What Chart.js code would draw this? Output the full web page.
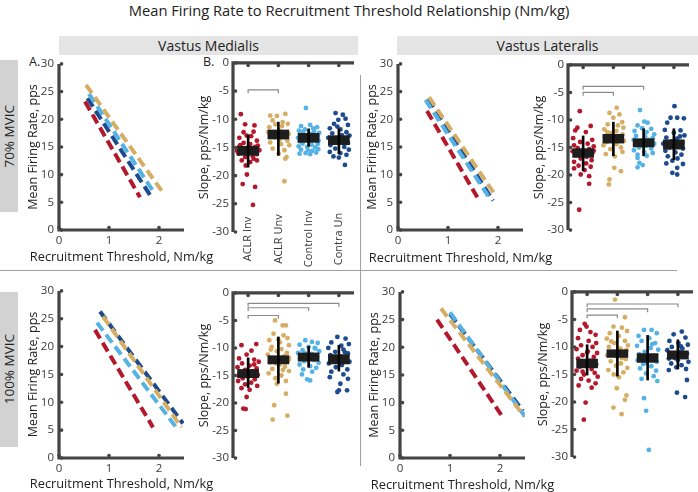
<!DOCTYPE html>
<html><head><meta charset="utf-8">
<script src="https://cdn.jsdelivr.net/npm/chart.js@4.4.0/dist/chart.umd.min.js"></script>
<style>
body{margin:0;width:698px;height:492px;position:relative;background:#fff;font-family:'Open Sans',sans-serif;overflow:hidden;color:#222}
canvas{position:absolute}
.abs{position:absolute;white-space:nowrap}
.hdr{position:absolute;background:#e4e4e4;height:19px;line-height:19px;text-align:center;font-size:14px;color:#222}
.rowlab{position:absolute;left:0;width:18px;background:#d2d2d2;display:flex;align-items:center;justify-content:center}
.rowlab span{writing-mode:vertical-rl;transform:rotate(180deg);font-size:13.5px;white-space:nowrap;color:#222}
.hline{position:absolute;height:1px;background:#a0a0a0}
.vline{position:absolute;width:1px;background:#a0a0a0}
.lab{position:absolute;font-size:12.5px;line-height:16px;color:#222}
.xt{position:absolute;font-size:12.8px;line-height:18px;color:#222;text-align:center;white-space:nowrap;width:200px}
</style></head><body>
<div class="abs" style="left:0;top:1px;width:698px;text-align:center;font-size:14.7px;line-height:18px;color:#222">Mean Firing Rate to Recruitment Threshold Relationship (Nm/kg)</div>
<div class="hdr" style="left:59px;top:36px;width:299px">Vastus Medialis</div>
<div class="hdr" style="left:397px;top:36px;width:301px">Vastus Lateralis</div>
<div class="rowlab" style="top:60px;height:152px"><span>70% MVIC</span></div>
<div class="rowlab" style="top:292px;height:155px"><span>100% MVIC</span></div>
<div class="hline" style="left:0;top:270px;width:677px"></div>
<div class="vline" style="left:360px;top:75px;height:391px"></div>
<div class="lab" style="left:29px;top:54px">A.</div>
<div class="lab" style="left:203px;top:54px">B.</div>
<script>
// ---------- data ----------
const categories = ['ACLR Inv', 'ACLR Unv', 'Control Inv', 'Contra Un'];
const lineXTicks = [0, 1, 2];
const lineYTicks = [0, 5, 10, 15, 20, 25, 30];
const slopeYTicks = [0, -5, -10, -15, -20, -25, -30];
const catTicks = [1, 2, 3, 4];
const lineXRange = [0, 2.5], lineYRange = [0, 30];
const slopeXRange = [0.5, 4.5], slopeYRange = [-30, 0];
const lineXTitle = 'Recruitment Threshold, Nm/kg';
const lineYTitle = 'Mean Firing Rate, pps';
const slopeYTitle = 'Slope, pps/Nm/kg';

// regression line endpoints [x, y] per group (ACLR Inv, ACLR Unv, Control Inv, Contra Un)
const vm70LineStart = [[0.52, 23.2], [0.54, 26.2], [0.60, 24.6], [0.57, 23.8]];
const vm70LineEnd   = [[1.62, 5.9], [2.06, 7.0], [1.92, 6.5], [1.85, 5.9]];
const vl70LineStart = [[0.58, 21.5], [0.62, 24.0], [0.55, 23.5], [0.60, 23.7]];
const vl70LineEnd   = [[1.60, 5.7], [1.93, 6.5], [1.85, 5.5], [1.90, 5.3]];
const vm100LineStart = [[0.72, 23.0], [0.88, 25.4], [0.76, 24.3], [0.82, 26.3]];
const vm100LineEnd   = [[1.88, 5.5], [2.45, 5.5], [2.36, 5.3], [2.48, 6.2]];
const vl100LineStart = [[0.74, 25.0], [0.82, 27.0], [1.00, 26.3], [1.00, 26.0]];
const vl100LineEnd   = [[2.06, 7.3], [2.48, 7.6], [2.50, 7.5], [2.46, 8.5]];

// individual slopes: [jitter offset from category, slope]
const vm70AclrInv = [[-0.24,-9.1],[-0.1,-10.9],[0.21,-11.1],[-0.15,-12.3],[0.18,-12.2],[-0.29,-13.3],[0.29,-13.8],[-0.26,-14.6],[0.07,-14.4],[0.23,-14.9],[-0.21,-15.4],[0.12,-15.8],[0.29,-16.2],[-0.32,-16.1],[-0.1,-16.7],[0.18,-17.0],[-0.21,-17.3],[0.07,-17.6],[0.29,-17.3],[-0.04,-15.1],[-0.15,-14.2],[0.01,-15.5],[-0.37,-15.6],[0.37,-15.5],[-0.04,-19.8],[-0.18,-21.5],[0.23,-22.0],[0.16,-25.2],[0.1,-13.0],[-0.08,-18.2],[0.32,-14.7],[-0.3,-14.9],[0.15,-16.5],[-0.05,-12.9]];
const vm70AclrUnv = [[-0.27,-9.35],[-0.05,-9.4],[0.23,-9.06],[-0.19,-10.2],[0.14,-10.5],[0.31,-10.8],[-0.3,-11.4],[0.03,-12.0],[0.34,-12.6],[-0.13,-13.2],[0.23,-13.3],[-0.27,-14.1],[0.09,-14.4],[0.36,-14.6],[-0.19,-15.2],[0.2,-15.5],[0.01,-16.1],[0.27,-16.7],[0.23,-17.0],[0.2,-21.0],[-0.33,-12.3],[0.12,-11.2],[-0.1,-10.9],[0.3,-13.8],[-0.22,-12.8],[0.05,-13.6]];
const vm70CtrlInv = [[-0.09,-8.0],[-0.25,-11.2],[0.05,-11.0],[0.28,-11.4],[-0.32,-12.0],[-0.12,-11.8],[0.18,-12.1],[0.35,-12.4],[-0.28,-12.7],[0.08,-12.6],[0.3,-13.0],[-0.35,-13.3],[-0.15,-13.1],[0.2,-13.4],[-0.3,-13.9],[0.33,-13.8],[-0.2,-14.3],[0.1,-14.5],[0.3,-14.4],[-0.33,-14.8],[-0.05,-14.9],[0.22,-15.0],[-0.25,-15.4],[0.12,-15.6],[0.32,-15.3],[-0.1,-16.0],[0.05,-16.2],[-0.3,-16.1],[0.25,-15.9],[-0.18,-12.2],[0.0,-13.8],[0.15,-11.6],[-0.02,-15.5]];
const vm70ContraUn = [[-0.11,-8.9],[0.13,-9.2],[0.22,-9.9],[-0.02,-10.1],[-0.16,-10.8],[0.3,-11.0],[-0.3,-11.6],[0.05,-11.8],[0.25,-12.3],[-0.22,-12.5],[0.35,-12.9],[-0.35,-13.3],[0.12,-13.5],[-0.08,-14.0],[0.3,-14.2],[-0.28,-14.6],[0.18,-14.9],[-0.12,-15.2],[0.33,-15.4],[-0.3,-15.8],[0.05,-16.0],[0.25,-16.3],[-0.18,-16.6],[0.0,-16.8],[0.2,-18.1],[-0.25,-13.8],[0.1,-12.8],[-0.05,-11.3]];

const vl70AclrInv = [[-0.11,-8.4],[-0.19,-11.4],[0.25,-11.1],[-0.26,-11.9],[0.09,-12.2],[-0.33,-13.3],[0.3,-13.6],[-0.1,-14.0],[0.15,-14.3],[-0.3,-14.6],[0.35,-14.8],[-0.18,-15.1],[0.2,-15.3],[-0.35,-15.7],[0.02,-15.9],[0.3,-16.1],[-0.25,-16.4],[0.12,-16.7],[-0.08,-17.0],[0.28,-17.3],[-0.3,-17.6],[0.1,-17.9],[-0.15,-18.3],[0.25,-18.5],[-0.3,-18.8],[0.05,-19.1],[-0.08,-19.9],[0.2,-20.2],[0.2,-21.6],[-0.13,-26.3],[-0.2,-16.0],[0.35,-15.6]];
const vl70AclrUnv = [[0.11,-7.8],[-0.13,-8.7],[0.2,-9.0],[0.0,-9.6],[0.29,-10.4],[-0.19,-10.8],[0.33,-11.4],[-0.3,-11.7],[0.1,-12.0],[-0.1,-12.4],[0.3,-12.6],[-0.28,-13.0],[0.18,-13.2],[-0.05,-13.5],[0.35,-13.8],[-0.22,-14.0],[0.1,-14.4],[-0.33,-14.6],[0.25,-15.0],[-0.1,-15.3],[0.3,-15.8],[-0.25,-16.2],[0.05,-16.6],[0.03,-18.7],[0.25,-19.3],[-0.13,-20.8],[-0.15,-21.7],[-0.2,-12.2],[0.15,-11.0]];
const vl70CtrlInv = [[-0.12,-8.2],[0.02,-10.3],[0.13,-10.5],[-0.2,-11.0],[0.25,-11.6],[-0.3,-12.0],[0.1,-12.2],[0.35,-12.6],[-0.25,-12.9],[0.05,-13.0],[0.3,-13.3],[-0.33,-13.6],[-0.1,-13.8],[0.2,-14.0],[0.35,-14.3],[-0.28,-14.5],[0.08,-14.7],[-0.15,-15.0],[0.25,-15.2],[-0.32,-15.5],[0.02,-15.8],[0.3,-16.0],[-0.2,-16.3],[0.1,-16.5],[-0.2,-16.9],[-0.14,-17.8],[-0.03,-18.2],[-0.2,-18.6],[0.15,-13.6],[-0.05,-11.5]];
const vl70ContraUn = [[0.02,-7.5],[-0.11,-9.6],[0.11,-9.6],[0.33,-9.7],[-0.22,-10.5],[0.22,-11.9],[-0.3,-11.8],[0.0,-12.3],[0.35,-12.8],[-0.25,-13.2],[0.1,-13.4],[-0.08,-13.9],[0.28,-14.1],[-0.35,-14.3],[0.15,-14.6],[-0.15,-15.0],[0.3,-15.2],[-0.28,-15.6],[0.05,-15.9],[0.25,-16.3],[-0.2,-16.6],[0.12,-17.0],[-0.05,-17.4],[0.3,-18.0],[0.11,-18.7],[-0.05,-19.6],[0.11,-19.9],[-0.25,-17.9],[0.2,-13.0]];

const vm100AclrInv = [[-0.22,-9.5],[0.27,-9.3],[0.11,-10.5],[-0.05,-11.2],[-0.3,-11.9],[0.2,-12.1],[0.35,-12.5],[-0.2,-12.8],[0.05,-13.2],[-0.35,-13.5],[0.28,-13.7],[-0.1,-14.0],[0.15,-14.3],[-0.28,-14.6],[0.32,-14.9],[0.0,-15.2],[-0.18,-15.5],[0.22,-15.7],[-0.33,-16.0],[0.1,-16.3],[-0.1,-16.6],[0.3,-16.9],[-0.22,-17.3],[0.05,-17.6],[-0.05,-18.9],[-0.16,-21.0],[-0.08,-21.1],[0.2,-13.0],[-0.3,-15.0]];
const vm100AclrUnv = [[-0.11,-5.0],[0.14,-5.9],[0.25,-5.9],[-0.16,-7.4],[0.17,-7.7],[0.3,-8.2],[-0.3,-8.6],[0.05,-9.0],[0.35,-9.5],[-0.22,-9.8],[0.1,-10.2],[-0.05,-10.6],[0.28,-10.9],[-0.35,-11.2],[0.2,-11.5],[-0.15,-11.9],[0.33,-12.3],[-0.28,-12.6],[0.05,-13.0],[0.22,-13.4],[-0.2,-13.8],[0.35,-14.2],[-0.32,-14.6],[0.1,-15.0],[-0.1,-15.5],[0.25,-16.0],[-0.05,-16.5],[0.25,-18.3],[-0.14,-20.4],[-0.19,-23.0],[0.3,-22.3],[0.0,-8.5],[-0.25,-10.3],[0.15,-14.0],[0.35,-11.8],[-0.08,-12.8]];
const vm100CtrlInv = [[-0.11,-8.6],[0.11,-8.9],[0.3,-9.1],[-0.3,-9.4],[0.0,-9.8],[0.22,-10.1],[-0.2,-10.4],[0.35,-10.6],[-0.35,-10.9],[0.1,-11.1],[-0.08,-11.4],[0.28,-11.6],[-0.28,-11.9],[0.18,-12.2],[-0.15,-12.4],[0.33,-12.7],[-0.3,-13.0],[0.05,-13.3],[0.25,-13.6],[-0.18,-13.9],[0.12,-14.3],[-0.05,-15.7],[0.05,-15.9],[-0.22,-14.8],[0.2,-10.0],[-0.12,-11.0]];
const vm100ContraUn = [[-0.05,-8.0],[0.22,-8.3],[-0.25,-9.0],[0.33,-9.3],[0.08,-9.6],[-0.35,-10.0],[0.15,-10.3],[-0.12,-10.7],[0.3,-11.0],[-0.28,-11.3],[0.05,-11.6],[0.25,-11.9],[-0.2,-12.2],[0.35,-12.5],[-0.33,-12.8],[0.1,-13.1],[-0.1,-13.5],[0.28,-13.9],[-0.25,-14.3],[0.15,-14.8],[-0.3,-15.3],[0.3,-15.6],[0.05,-16.5],[0.0,-17.7],[0.27,-17.7],[-0.05,-18.0],[-0.15,-12.0],[0.2,-10.8]];

const vl100AclrInv = [[-0.08,-5.8],[-0.02,-6.3],[-0.24,-6.9],[0.11,-7.3],[0.28,-7.8],[-0.3,-8.4],[0.05,-8.9],[0.3,-9.3],[-0.2,-9.7],[0.18,-10.0],[-0.35,-10.4],[0.02,-10.8],[0.33,-11.1],[-0.15,-11.5],[0.22,-11.8],[-0.3,-12.1],[0.1,-12.5],[-0.05,-12.9],[0.3,-13.2],[-0.25,-13.6],[0.15,-14.0],[-0.35,-14.3],[0.25,-14.7],[-0.1,-15.0],[0.35,-15.4],[-0.2,-15.8],[0.05,-16.1],[0.28,-16.6],[-0.28,-17.0],[0.15,-17.4],[-0.05,-20.1],[-0.11,-23.2],[0.0,-11.0],[-0.15,-14.5]];
const vl100AclrUnv = [[-0.08,-1.4],[0.25,-4.6],[-0.13,-6.3],[0.15,-6.5],[0.32,-7.1],[-0.25,-7.5],[0.05,-8.0],[-0.35,-8.5],[0.25,-8.9],[-0.1,-9.3],[0.35,-9.7],[-0.28,-10.0],[0.1,-10.3],[0.3,-10.6],[-0.18,-10.9],[0.18,-11.2],[-0.33,-11.5],[0.0,-11.8],[0.28,-12.2],[-0.22,-12.6],[0.12,-13.0],[-0.05,-13.4],[0.33,-13.8],[-0.3,-14.2],[0.2,-14.6],[-0.12,-15.0],[0.05,-15.5],[-0.02,-17.5],[0.3,-18.8],[0.25,-19.6],[-0.13,-21.0],[0.14,-22.2],[-0.2,-9.0],[0.15,-12.0]];
const vl100CtrlInv = [[-0.12,-6.9],[0.13,-6.9],[0.3,-7.5],[-0.3,-8.0],[0.05,-8.4],[-0.2,-8.9],[0.25,-9.3],[-0.35,-9.8],[0.1,-10.2],[0.35,-10.5],[-0.1,-10.9],[-0.28,-11.3],[0.2,-11.6],[0.0,-12.0],[-0.33,-12.4],[0.3,-12.7],[-0.15,-13.1],[0.12,-13.5],[-0.25,-13.9],[0.28,-14.3],[-0.05,-14.8],[0.2,-15.3],[-0.2,-15.8],[0.32,-16.2],[-0.12,-19.3],[-0.05,-21.6],[0.04,-28.7],[0.15,-9.5],[-0.08,-12.9]];
const vl100ContraUn = [[-0.14,-7.7],[0.13,-7.2],[0.25,-8.3],[-0.28,-8.9],[0.02,-9.3],[0.33,-9.6],[-0.2,-10.0],[0.15,-10.3],[-0.35,-10.6],[0.05,-10.9],[0.3,-11.2],[-0.12,-11.5],[0.2,-11.8],[-0.3,-12.1],[0.0,-12.4],[0.35,-12.7],[-0.22,-13.0],[0.12,-13.3],[-0.05,-13.7],[0.27,-14.0],[-0.3,-14.2],[0.3,-16.0],[-0.03,-18.3],[0.24,-19.1],[0.1,-9.9],[-0.1,-12.0]];

// mean boxes and error bars per group
const vm70BoxLo = [-16.4, -13.5, -14.1, -14.5], vm70BoxHi = [-14.8, -11.9, -12.5, -12.9];
const vm70ErrLo = [-18.5, -16.4, -14.8, -16.1], vm70ErrHi = [-12.8, -10.5, -11.7, -11.7];
const vl70BoxLo = [-16.8, -14.2, -14.9, -15.3], vl70BoxHi = [-15.2, -12.6, -13.4, -13.6];
const vl70ErrLo = [-19.2, -16.5, -16.5, -17.2], vl70ErrHi = [-12.9, -10.4, -11.6, -11.6];
const vm100BoxLo = [-15.4, -12.9, -12.4, -12.9], vm100BoxHi = [-13.9, -11.4, -10.9, -11.2];
const vm100ErrLo = [-17.2, -16.4, -13.5, -14.2], vm100ErrHi = [-11.8, -8.0, -9.7, -9.5];
const vl100BoxLo = [-13.8, -11.9, -12.8, -12.2], vl100BoxHi = [-12.2, -10.5, -11.2, -10.7];
const vl100ErrLo = [-15.1, -15.3, -16.0, -14.0], vl100ErrHi = [-9.6, -7.1, -7.9, -8.7];

// significance brackets: [from category, to category, level]
const vm70Brackets = [[1, 2, -4.8]];
const vl70Brackets = [[1, 3, -3.9], [1, 2, -5.0]];
const vm100Brackets = [[1, 4, -1.9], [1, 3, -2.7], [1, 2, -4.1]];
const vl100Brackets = [[1, 4, -2.2], [1, 3, -3.1], [1, 2, -4.2]];

// ---------- style ----------
const groupColors = ['#b3182d', '#d6ae63', '#55b2e5', '#1d4b8d'];
const AXIS = '#444444', TICK = '#3a3a3a', TXT = '#222';
const FONT = "'Open Sans', sans-serif";
Chart.defaults.font.family = FONT;
Chart.defaults.font.size = 11.5;
Chart.defaults.color = TICK;
Chart.defaults.animation = false;

const gridOpts = {display: false, drawOnChartArea: false, drawTicks: false, tickLength: 0};
const borderOpts = {display: false};

// axis line drawn as a dataset along the scale limits (corner at x-min / y-edge)
function axisDataset(xr, yr, xTop) {
  const yEdge = xTop ? yr[1] : yr[0];
  const yFar = xTop ? yr[0] : yr[1];
  return {
    type: 'line', order: -5, clip: false,
    data: [{x: xr[0], y: yFar}, {x: xr[0], y: yEdge}, {x: xr[1], y: yEdge}],
    borderColor: AXIS, borderWidth: 3.2, borderCapStyle: 'butt', borderJoinStyle: 'miter',
    pointRadius: 0, fill: false, tension: 0
  };
}

// small inward tick nubs on the axes
const nubPlugin = {
  id: 'nubs',
  afterDraw(chart) {
    const ctx = chart.ctx, a = chart.chartArea, xs = chart.scales.x, ys = chart.scales.y;
    const top = xs.options.position === 'top';
    ctx.save();
    ctx.fillStyle = AXIS;
    const dot = (x, y) => { ctx.beginPath(); ctx.arc(x, y, 1.8, 0, Math.PI * 2); ctx.fill(); };
    xs.ticks.forEach(t => dot(xs.getPixelForValue(t.value), top ? a.top + 2.5 : a.bottom - 2.5));
    ys.ticks.forEach(t => dot(a.left + 2.5, ys.getPixelForValue(t.value)));
    ctx.restore();
  }
};

const catLabelPlugin = {
  id: 'catLabels',
  afterDraw(chart, args, opts) {
    if (!opts || !opts.show) return;
    const ctx = chart.ctx, xs = chart.scales.x, a = chart.chartArea;
    ctx.save();
    ctx.font = '11px ' + FONT; ctx.fillStyle = TICK;
    ctx.textAlign = 'center'; ctx.textBaseline = 'middle';
    categories.forEach((c, i) => {
      ctx.save();
      ctx.translate(xs.getPixelForValue(catTicks[i]), a.bottom + opts.offset);
      ctx.rotate(-Math.PI / 2);
      ctx.fillText(c, 0, 0);
      ctx.restore();
    });
    ctx.restore();
  }
};

function place(area, yw, t, r, xh, b) {
  const [L, T, Rt, B] = area;
  const c = document.createElement('canvas');
  const w = yw + (Rt - L) + r, h = t + (B - T) + xh + b;
  c.width = w; c.height = h;
  c.style.left = (L - yw) + 'px'; c.style.top = (T - t) + 'px';
  c.style.width = w + 'px'; c.style.height = h + 'px';
  document.body.appendChild(c);
  return c;
}

function linePanel(area, starts, ends, titleY) {
  const YW = 33, T = 10, R = 8, XH = 20;
  const c = place(area, YW, T, R, XH, 0);
  const xt = document.createElement('div');
  xt.className = 'xt'; xt.textContent = lineXTitle;
  xt.style.left = ((area[0] + area[2]) / 2 - 100) + 'px';
  xt.style.top = (titleY - 9) + 'px';
  document.body.appendChild(xt);
  const datasets = starts.map((s, i) => ({
    type: 'line',
    data: [{x: s[0], y: s[1]}, {x: ends[i][0], y: ends[i][1]}],
    borderColor: groupColors[i], borderWidth: 4, borderDash: [10, 5],
    borderCapStyle: 'butt', pointRadius: 0, fill: false, tension: 0
  }));
  datasets.push(axisDataset(lineXRange, lineYRange, false));
  new Chart(c, {
    type: 'scatter',
    data: {datasets},
    options: {
      responsive: false, animation: false,
      layout: {padding: {top: T, right: R, left: 0, bottom: 0}},
      plugins: {legend: {display: false}, tooltip: {enabled: false}},
      scales: {
        x: {type: 'linear', position: 'bottom', min: lineXRange[0], max: lineXRange[1], offset: false,
          afterBuildTicks: s => { s.ticks = lineXTicks.map(v => ({value: v})); },
          afterFit: s => { s.height = XH; },
          grid: gridOpts, border: borderOpts,
          ticks: {padding: 3.5, color: TICK}},
        y: {type: 'linear', min: lineYRange[0], max: lineYRange[1],
          afterBuildTicks: s => { s.ticks = lineYTicks.map(v => ({value: v})); },
          afterFit: s => { s.width = YW; },
          grid: gridOpts, border: borderOpts,
          ticks: {padding: 5, color: TICK},
          title: {display: true, text: lineYTitle, padding: 0, color: TXT, font: {size: 12.5}}}
      }
    },
    plugins: [nubPlugin]
  });
}

function dotPanel(area, groups, boxLo, boxHi, errLo, errHi, brackets, showCats) {
  const YW = 36, T = 10, R = 8, B = showCats ? 40 : 8;
  const c = place(area, YW, T, R, 0, B);
  const datasets = [];
  groups.forEach((pts, i) => datasets.push({
    type: 'scatter', order: 3,
    data: pts.map(p => ({x: catTicks[i] + p[0], y: p[1]})),
    backgroundColor: groupColors[i], borderWidth: 0, pointRadius: 2.4
  }));
  datasets.push({
    type: 'bar', order: 1, grouped: false, barThickness: 21,
    data: catTicks.map((x, i) => ({x, y: [boxLo[i], boxHi[i]]})),
    backgroundColor: '#1e1e1e', borderWidth: 0
  });
  datasets.push({
    type: 'bar', order: 0, grouped: false, barThickness: 2,
    data: catTicks.map((x, i) => ({x, y: [errLo[i], errHi[i]]})),
    backgroundColor: '#050505', borderWidth: 0
  });
  brackets.forEach(b => datasets.push({
    type: 'line', order: 2,
    data: [{x: b[0], y: b[2] - 0.6}, {x: b[0], y: b[2]}, {x: b[1], y: b[2]}, {x: b[1], y: b[2] - 0.6}],
    borderColor: '#8a8a8a', borderWidth: 1.2, pointRadius: 0, fill: false, tension: 0
  }));
  datasets.push(axisDataset(slopeXRange, slopeYRange, true));
  new Chart(c, {
    type: 'scatter',
    data: {datasets},
    options: {
      responsive: false, animation: false,
      layout: {padding: {top: T, right: R, left: 0, bottom: B}},
      plugins: {legend: {display: false}, tooltip: {enabled: false},
        catLabels: {show: showCats, offset: 7}},
      scales: {
        x: {type: 'linear', position: 'top', min: slopeXRange[0], max: slopeXRange[1], offset: false,
          afterBuildTicks: s => { s.ticks = catTicks.map(v => ({value: v})); },
          afterFit: s => { s.height = 0; },
          grid: gridOpts, border: borderOpts,
          ticks: {display: false}},
        y: {type: 'linear', min: slopeYRange[0], max: slopeYRange[1],
          afterBuildTicks: s => { s.ticks = slopeYTicks.map(v => ({value: v})); },
          afterFit: s => { s.width = YW; },
          grid: gridOpts, border: borderOpts,
          ticks: {padding: 4, color: TICK},
          title: {display: true, text: slopeYTitle, padding: 0, color: TXT, font: {size: 12.5}}}
      }
    },
    plugins: [nubPlugin, catLabelPlugin]
  });
}

linePanel([59, 62, 184, 230], vm70LineStart, vm70LineEnd, 256);
dotPanel([233, 62, 354, 232], [vm70AclrInv, vm70AclrUnv, vm70CtrlInv, vm70ContraUn], vm70BoxLo, vm70BoxHi, vm70ErrLo, vm70ErrHi, vm70Brackets, true);
linePanel([398, 62, 523, 230], vl70LineStart, vl70LineEnd, 257);
dotPanel([568, 64, 689, 233], [vl70AclrInv, vl70AclrUnv, vl70CtrlInv, vl70ContraUn], vl70BoxLo, vl70BoxHi, vl70ErrLo, vl70ErrHi, vl70Brackets, false);
linePanel([59, 289, 184, 458], vm100LineStart, vm100LineEnd, 483);
dotPanel([233, 292, 354, 461], [vm100AclrInv, vm100AclrUnv, vm100CtrlInv, vm100ContraUn], vm100BoxLo, vm100BoxHi, vm100ErrLo, vm100ErrHi, vm100Brackets, false);
linePanel([400, 290, 525, 458], vl100LineStart, vl100LineEnd, 484);
dotPanel([572, 291, 693, 460], [vl100AclrInv, vl100AclrUnv, vl100CtrlInv, vl100ContraUn], vl100BoxLo, vl100BoxHi, vl100ErrLo, vl100ErrHi, vl100Brackets, false);
</script>
</body></html>
